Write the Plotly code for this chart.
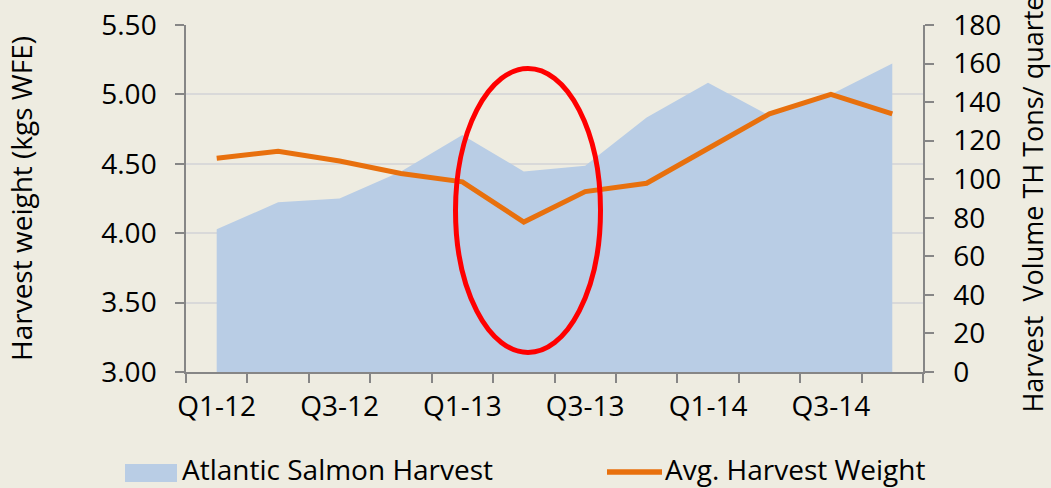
import plotly.graph_objects as go

quarters = ["Q1-12", "Q2-12", "Q3-12", "Q4-12", "Q1-13", "Q2-13", "Q3-13", "Q4-13",
            "Q1-14", "Q2-14", "Q3-14", "Q4-14"]
tick_labels = ["Q1-12", "", "Q3-12", "", "Q1-13", "", "Q3-13", "", "Q1-14", "", "Q3-14", ""]
harvest_volume = [74, 88, 90, 104, 123, 104, 107, 132, 150, 133, 144, 160]
avg_weight = [4.54, 4.59, 4.52, 4.43, 4.37, 4.08, 4.30, 4.36, 4.61, 4.86, 5.00, 4.86]
series_names = ["Atlantic Salmon Harvest", "Avg. Harvest Weight"]

BG = "#EEECE1"
FONT = "Open Sans"
AXIS = "#868686"
AREA = "#B9CDE5"
ORANGE = "#E8700D"
FS = 28

fig = go.Figure()
# area on the base axis (right side scale), so the line overlay is drawn above it
fig.add_trace(go.Scatter(
    x=quarters, y=harvest_volume, name=series_names[0], yaxis="y",
    mode="lines", fill="tozeroy", fillcolor=AREA, line=dict(width=0, color=AREA),
    showlegend=False,
))
fig.add_trace(go.Scatter(
    x=quarters, y=avg_weight, name=series_names[1], yaxis="y2",
    mode="lines", line=dict(color=ORANGE, width=5), showlegend=False,
))

def px_x(p):
    return (p - 186) / 737

def px_y(p):
    return (372 - p) / 347

fig.update_layout(
    width=1051, height=488,
    paper_bgcolor=BG, plot_bgcolor=BG,
    margin=dict(l=186, r=128, t=25, b=116, autoexpand=False),
    font=dict(family=FONT, size=FS, color="#000000"),
    showlegend=False,
    xaxis=dict(
        type="category", tickmode="array", tickvals=quarters, ticktext=tick_labels,
        tickson="boundaries", ticks="outside", ticklen=9, tickcolor=AXIS, tickwidth=1.5,
        showline=True, linecolor=AXIS, linewidth=1.5, showgrid=False,
        range=[-0.5, 11.5], tickangle=0, automargin=False, ticklabelstandoff=9,
    ),
    yaxis=dict(
        side="right", range=[0, 180], dtick=20,
        ticks="outside", ticklen=9, tickcolor=AXIS, tickwidth=1.5,
        showline=True, linecolor=AXIS, linewidth=1.5, showgrid=False, zeroline=False,
        ticklabelstandoff=14, automargin=False,
        title=dict(text="Harvest  Volume TH Tons/ quarter", font=dict(size=27), standoff=35),
    ),
    yaxis2=dict(
        overlaying="y", side="left", range=[3.0, 5.5],
        tickvals=[3.0, 3.5, 4.0, 4.5, 5.0, 5.5], tickformat=".2f",
        ticks="outside", ticklen=9, tickcolor=AXIS, tickwidth=1.5,
        showline=True, linecolor=AXIS, linewidth=1.5,
        showgrid=True, gridcolor="#D9D9D9", gridwidth=1.5, zeroline=False,
        ticklabelstandoff=13, automargin=False,
        title=dict(text="Harvest weight (kgs WFE)", font=dict(size=FS), standoff=60),
    ),
    shapes=[
        dict(type="circle", xref="paper", yref="paper",
             x0=px_x(455.5), x1=px_x(600.5), y0=px_y(352.5), y1=px_y(68.5),
             line=dict(color="#FF0000", width=5), layer="above"),
        # legend swatches
        dict(type="rect", xref="paper", yref="paper",
             x0=px_x(125), x1=px_x(177), y0=px_y(482), y1=px_y(464),
             fillcolor=AREA, line=dict(width=0), layer="above"),
        dict(type="line", xref="paper", yref="paper",
             x0=px_x(607), x1=px_x(662), y0=px_y(472), y1=px_y(472),
             line=dict(color=ORANGE, width=5.5), layer="above"),
    ],
    annotations=[
        dict(text=series_names[0], xref="paper", yref="paper", x=px_x(180), y=px_y(469),
             xanchor="left", yanchor="middle", showarrow=False, font=dict(size=FS)),
        dict(text=series_names[1], xref="paper", yref="paper", x=px_x(663), y=px_y(469),
             xanchor="left", yanchor="middle", showarrow=False, font=dict(size=FS)),
    ],
)

fig.write_html(
    "out.html",
    config={"displayModeBar": False},
    post_script="document.body.style.margin='0';document.body.style.overflow='hidden';",
)
